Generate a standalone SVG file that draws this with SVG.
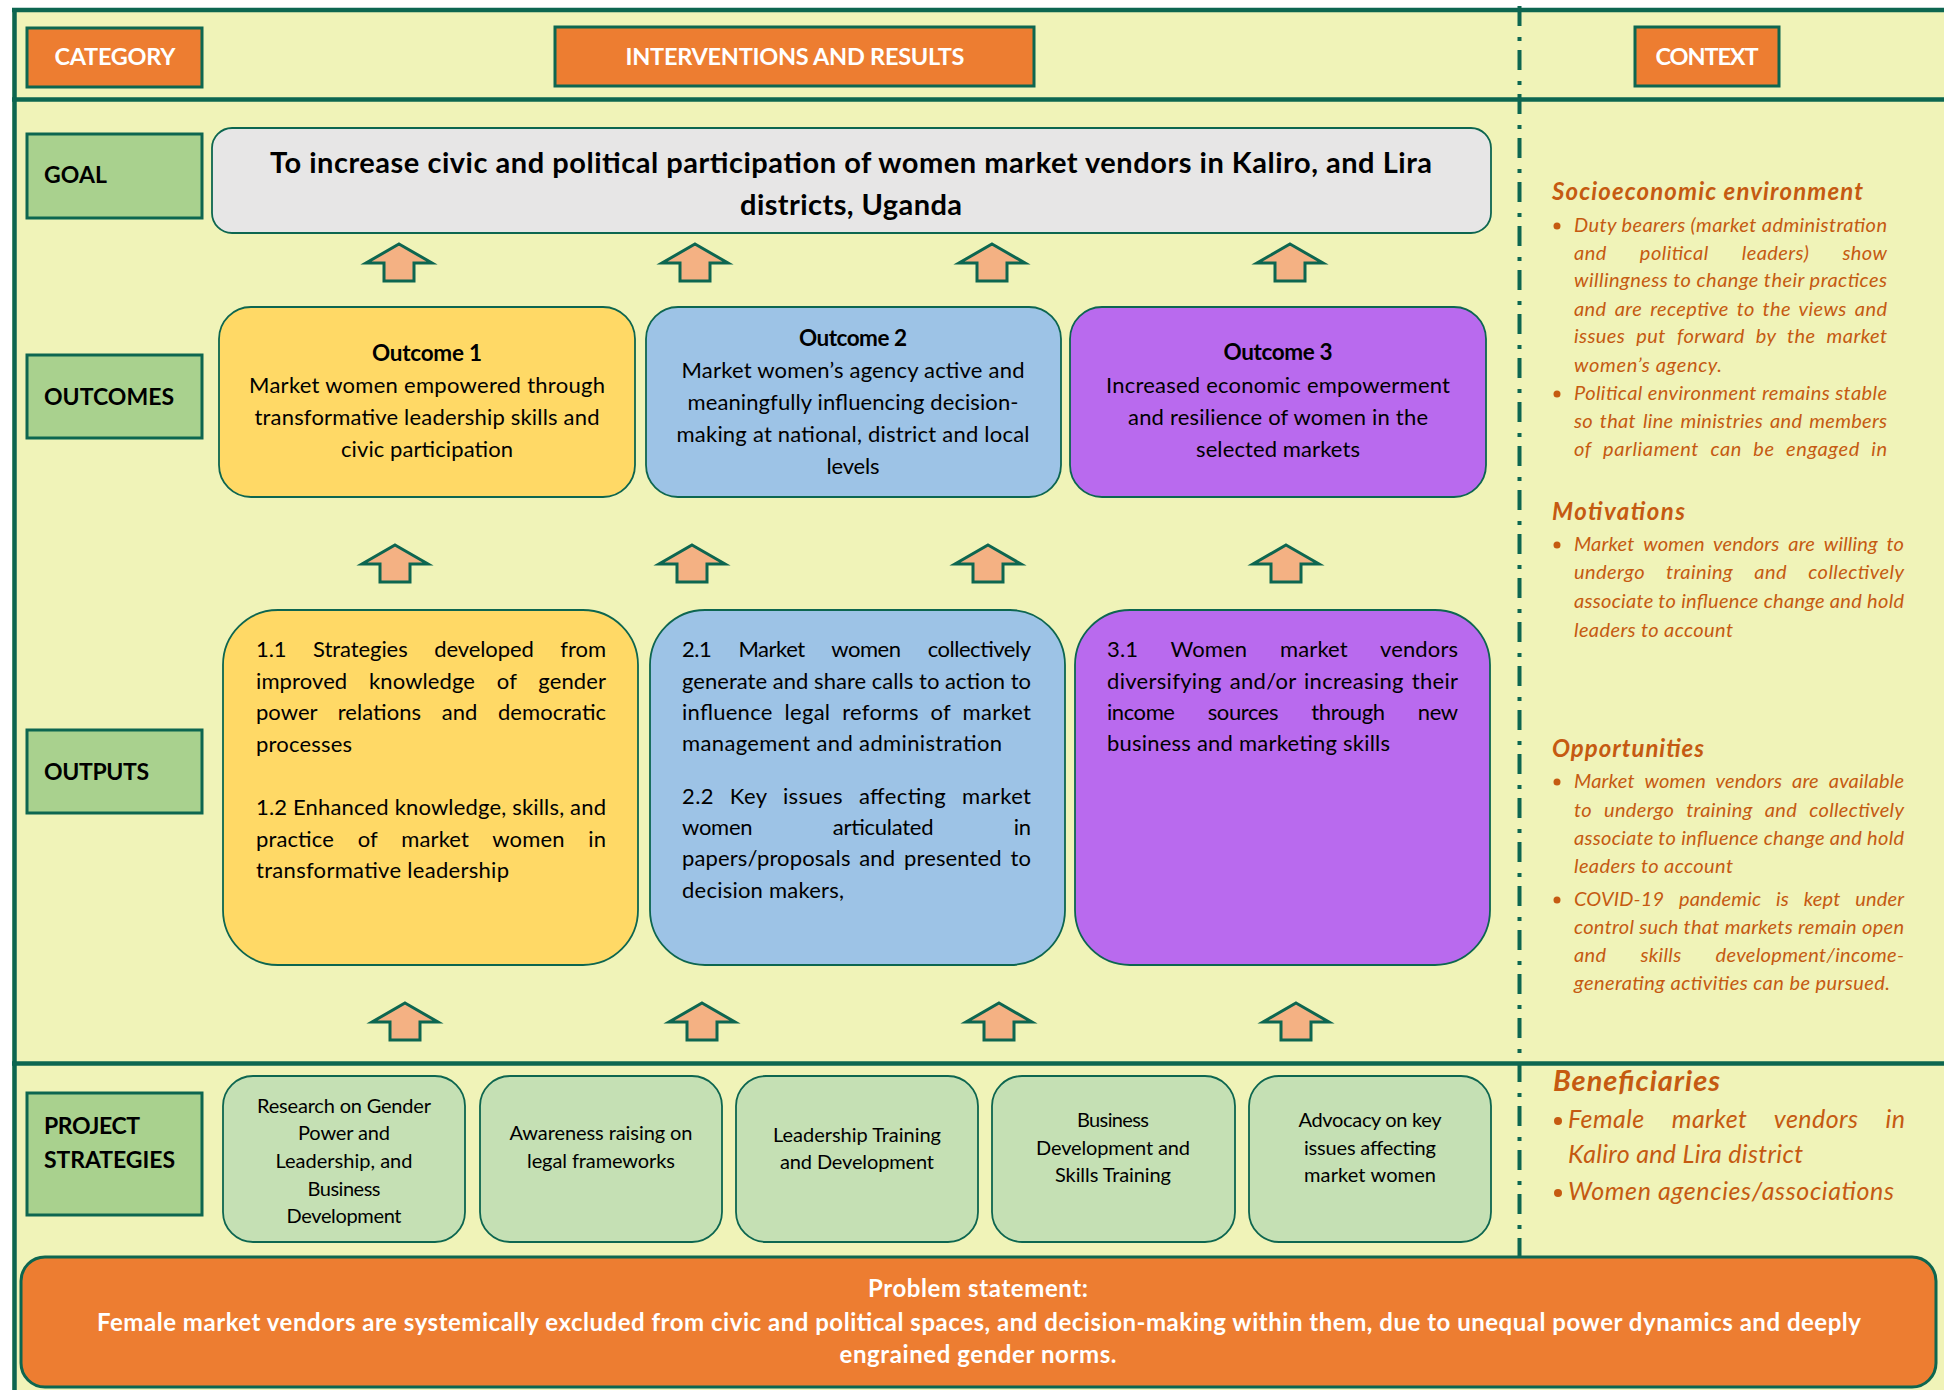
<svg xmlns="http://www.w3.org/2000/svg" width="1944" height="1390" viewBox="0 0 1944 1390">
  <defs>
    <style>
      text { font-family: Lato, "Liberation Sans", sans-serif; fill: #000; }
      .frame { stroke: #0D6650; stroke-width: 4.5; fill: none; }
      .dash { stroke: #0D6650; stroke-width: 4; fill: none; stroke-dasharray: 20 11 4 9; }
      .hdr rect { fill: #ED7D31; stroke: #0D6650; stroke-width: 3; }
      .hdr text { fill: #fff; font-weight: 700; font-size: 23.5px; text-anchor: middle; }
      .cat rect { fill: #A9D18E; stroke: #0D6650; stroke-width: 3; }
      .cat text { font-weight: 700; font-size: 23px; }
      .box { stroke: #0D6650; stroke-width: 1.8; }
      .goal { fill: #E7E6E6; }
      .yel { fill: #FFD966; }
      .blu { fill: #9DC3E6; }
      .pur { fill: #B96AEE; }
      .strat { fill: #C5E0B4; }
      .ttl { font-weight: 700; font-size: 22.5px; text-anchor: middle; }
      .ctr { font-size: 22px; text-anchor: middle; }
      .par { font-size: 22px; }
      .st { font-size: 20px; text-anchor: middle; }
      .gl { font-weight: 700; font-size: 29px; text-anchor: middle; }
      .prob rect { fill: #ED7D31; stroke: #0D6650; stroke-width: 3; }
      .prob text { fill: #fff; font-weight: 700; font-size: 24px; text-anchor: middle; }
      .ctx text { fill: #C55A11; font-style: italic; font-size: 20px; }
      .ctx text.h { font-weight: 700; font-size: 24px; }
      .ctx text.hb { font-weight: 700; font-size: 29px; }
      .ctx text.bn { font-size: 25px; }
      .ctx circle { fill: #C55A11; }
      .arw { fill: #F4B183; stroke: #0D6650; stroke-width: 3; stroke-linejoin: miter; }
    </style>
    <path id="up" class="arw" d="M0,0 L33,19 L15,19 L15,37 L-15,37 L-15,19 L-33,19 Z"/>
  </defs>

  <!-- page and frame -->
  <rect x="0" y="0" width="1944" height="1390" fill="#FFFFFF"/>
  <rect x="12" y="10" width="1932" height="1380" fill="#F0F3B8"/>
  <line class="dash" x1="1519.5" y1="6" x2="1519.5" y2="1257"/>
  <line class="frame" x1="12" y1="10" x2="1944" y2="10"/>
  <line class="frame" x1="14.5" y1="8" x2="14.5" y2="1390"/>
  <line class="frame" x1="12" y1="99.5" x2="1944" y2="99.5"/>
  <line class="frame" x1="12" y1="1063.5" x2="1944" y2="1063.5"/>

  <!-- column headers -->
  <g id="hdr-category" class="hdr">
    <rect x="27" y="28" width="175" height="59"/>
    <text x="115" y="65" textLength="121">CATEGORY</text>
  </g>
  <g id="hdr-interventions" class="hdr">
    <rect x="555" y="27" width="479" height="59"/>
    <text x="795" y="65" textLength="339">INTERVENTIONS AND RESULTS</text>
  </g>
  <g id="hdr-context" class="hdr">
    <rect x="1635" y="27" width="144" height="59"/>
    <text x="1707" y="65" textLength="103">CONTEXT</text>
  </g>

  <!-- row labels -->
  <g id="cat-goal" class="cat">
    <rect x="27" y="134" width="175" height="84"/>
    <text x="44" y="183" textLength="63">GOAL</text>
  </g>
  <g id="cat-outcomes" class="cat">
    <rect x="27" y="355" width="175" height="83"/>
    <text x="44" y="405" textLength="130">OUTCOMES</text>
  </g>
  <g id="cat-outputs" class="cat">
    <rect x="27" y="730" width="175" height="83"/>
    <text x="44" y="780" textLength="105">OUTPUTS</text>
  </g>
  <g id="cat-strategies" class="cat">
    <rect x="27" y="1093" width="175" height="122"/>
    <text x="44" y="1134" textLength="96">PROJECT</text>
    <text x="44" y="1168" textLength="131">STRATEGIES</text>
  </g>

  <!-- goal -->
  <g id="goal">
    <rect class="box goal" x="212" y="128" width="1279" height="105" rx="20"/>
    <text class="gl" x="851" y="173" textLength="1162">To increase civic and political participation of women market vendors in Kaliro, and Lira</text>
    <text class="gl" x="851" y="215" textLength="222">districts, Uganda</text>
  </g>

  <!-- outcomes -->
  <g id="outcome-1">
    <rect class="box yel" x="219" y="307" width="416" height="190" rx="32"/>
    <text class="ttl" x="427" y="361" textLength="110">Outcome 1</text>
    <text class="ctr" x="427" y="393" textLength="356">Market women empowered through</text>
    <text class="ctr" x="427" y="425" textLength="345">transformative leadership skills and</text>
    <text class="ctr" x="427" y="457" textLength="172">civic participation</text>
  </g>
  <g id="outcome-2">
    <rect class="box blu" x="646" y="307" width="415" height="190" rx="32"/>
    <text class="ttl" x="853" y="346" textLength="108">Outcome 2</text>
    <text class="ctr" x="853" y="378" textLength="343">Market women’s agency active and</text>
    <text class="ctr" x="853" y="410" textLength="331">meaningfully influencing decision-</text>
    <text class="ctr" x="853" y="442" textLength="353">making at national, district and local</text>
    <text class="ctr" x="853" y="474" textLength="53">levels</text>
  </g>
  <g id="outcome-3">
    <rect class="box pur" x="1070" y="307" width="416" height="190" rx="32"/>
    <text class="ttl" x="1278" y="360" textLength="109">Outcome 3</text>
    <text class="ctr" x="1278" y="393" textLength="344">Increased economic empowerment</text>
    <text class="ctr" x="1278" y="425" textLength="300">and resilience of women in the</text>
    <text class="ctr" x="1278" y="457" textLength="164">selected markets</text>
  </g>

  <!-- outputs -->
  <g id="output-1">
    <rect class="box yel" x="223" y="610" width="415" height="355" rx="55"/>
    <text class="par" x="256" y="657" textLength="350" style="word-spacing:21px">1.1 Strategies developed from</text>
    <text class="par" x="256" y="689" textLength="350" style="word-spacing:16px">improved knowledge of gender</text>
    <text class="par" x="256" y="720" textLength="350" style="word-spacing:15px">power relations and democratic</text>
    <text class="par" x="256" y="752" textLength="96">processes</text>
    <text class="par" x="256" y="815" textLength="350">1.2 Enhanced knowledge, skills, and</text>
    <text class="par" x="256" y="847" textLength="350" style="word-spacing:18px">practice of market women in</text>
    <text class="par" x="256" y="878" textLength="253">transformative leadership</text>
  </g>
  <g id="output-2">
    <rect class="box blu" x="650" y="610" width="415" height="355" rx="55"/>
    <text class="par" x="682" y="657" textLength="349" style="word-spacing:22px">2.1 Market women collectively</text>
    <text class="par" x="682" y="689" textLength="349">generate and share calls to action to</text>
    <text class="par" x="682" y="720" textLength="349" style="word-spacing:6px">influence legal reforms of market</text>
    <text class="par" x="682" y="751" textLength="320">management and administration</text>
    <text class="par" x="682" y="804" textLength="349" style="word-spacing:10px">2.2 Key issues affecting market</text>
    <text class="par" x="682" y="835" textLength="349" style="word-spacing:75px">women articulated in</text>
    <text class="par" x="682" y="866" textLength="349" style="word-spacing:3px">papers/proposals and presented to</text>
    <text class="par" x="682" y="898" textLength="162">decision makers,</text>
  </g>
  <g id="output-3">
    <rect class="box pur" x="1075" y="610" width="415" height="355" rx="55"/>
    <text class="par" x="1107" y="657" textLength="351" style="word-spacing:27px">3.1 Women market vendors</text>
    <text class="par" x="1107" y="689" textLength="351" style="word-spacing:2px">diversifying and/or increasing their</text>
    <text class="par" x="1107" y="720" textLength="351" style="word-spacing:28px">income sources through new</text>
    <text class="par" x="1107" y="751" textLength="283">business and marketing skills</text>
  </g>

  <!-- project strategies -->
  <g id="strategy-1">
    <rect class="box strat" x="223" y="1076" width="242" height="166" rx="30"/>
    <text class="st" x="344" y="1113" textLength="174">Research on Gender</text>
    <text class="st" x="344" y="1140" textLength="92">Power and</text>
    <text class="st" x="344" y="1168" textLength="137">Leadership, and</text>
    <text class="st" x="344" y="1196" textLength="73">Business</text>
    <text class="st" x="344" y="1223" textLength="115">Development</text>
  </g>
  <g id="strategy-2">
    <rect class="box strat" x="480" y="1076" width="242" height="166" rx="30"/>
    <text class="st" x="601" y="1140" textLength="183">Awareness raising on</text>
    <text class="st" x="601" y="1168" textLength="148">legal frameworks</text>
  </g>
  <g id="strategy-3">
    <rect class="box strat" x="736" y="1076" width="242" height="166" rx="30"/>
    <text class="st" x="857" y="1142" textLength="168">Leadership Training</text>
    <text class="st" x="857" y="1169" textLength="154">and Development</text>
  </g>
  <g id="strategy-4">
    <rect class="box strat" x="992" y="1076" width="243" height="166" rx="30"/>
    <text class="st" x="1113" y="1127" textLength="72">Business</text>
    <text class="st" x="1113" y="1155" textLength="154">Development and</text>
    <text class="st" x="1113" y="1182" textLength="116">Skills Training</text>
  </g>
  <g id="strategy-5">
    <rect class="box strat" x="1249" y="1076" width="242" height="166" rx="30"/>
    <text class="st" x="1370" y="1127" textLength="143">Advocacy on key</text>
    <text class="st" x="1370" y="1155" textLength="132">issues affecting</text>
    <text class="st" x="1370" y="1182" textLength="132">market women</text>
  </g>

  <!-- problem statement -->
  <g id="problem" class="prob">
    <rect x="21" y="1257" width="1915" height="130" rx="24"/>
    <text x="978" y="1297" textLength="220">Problem statement:</text>
    <text x="979" y="1331" textLength="1764">Female market vendors are systemically excluded from civic and political spaces, and decision-making within them, due to unequal power dynamics and deeply</text>
    <text x="978" y="1363" textLength="277">engrained gender norms.</text>
  </g>

  <!-- context column -->
  <g id="ctx-socioeconomic" class="ctx">
    <text class="h" x="1552" y="200" textLength="311">Socioeconomic environment</text>
    <circle cx="1557" cy="226" r="3.5"/>
    <text x="1574" y="232" textLength="313">Duty bearers (market administration</text>
    <text x="1574" y="260" textLength="313" style="word-spacing:28px">and political leaders) show</text>
    <text x="1574" y="287" textLength="313">willingness to change their practices</text>
    <text x="1574" y="316" textLength="313" style="word-spacing:3px">and are receptive to the views and</text>
    <text x="1574" y="343" textLength="313" style="word-spacing:6px">issues put forward by the market</text>
    <text x="1574" y="372" textLength="148">women’s agency.</text>
    <circle cx="1557" cy="394" r="3.5"/>
    <text x="1574" y="400" textLength="313">Political environment remains stable</text>
    <text x="1574" y="428" textLength="313" style="word-spacing:2px">so that line ministries and members</text>
    <text x="1574" y="456" textLength="313" style="word-spacing:6px">of parliament can be engaged in</text>
  </g>
  <g id="ctx-motivations" class="ctx">
    <text class="h" x="1552" y="520" textLength="133">Motivations</text>
    <circle cx="1557" cy="545" r="3.5"/>
    <text x="1574" y="551" textLength="330" style="word-spacing:4px">Market women vendors are willing to</text>
    <text x="1574" y="579" textLength="330" style="word-spacing:16px">undergo training and collectively</text>
    <text x="1574" y="608" textLength="330">associate to influence change and hold</text>
    <text x="1574" y="637" textLength="159">leaders to account</text>
  </g>
  <g id="ctx-opportunities" class="ctx">
    <text class="h" x="1552" y="757" textLength="152">Opportunities</text>
    <circle cx="1557" cy="782" r="3.5"/>
    <text x="1574" y="788" textLength="330" style="word-spacing:5px">Market women vendors are available</text>
    <text x="1574" y="817" textLength="330" style="word-spacing:7px">to undergo training and collectively</text>
    <text x="1574" y="845" textLength="330">associate to influence change and hold</text>
    <text x="1574" y="873" textLength="159">leaders to account</text>
    <circle cx="1557" cy="900" r="3.5"/>
    <text x="1574" y="906" textLength="330" style="word-spacing:10px">COVID-19 pandemic is kept under</text>
    <text x="1574" y="934" textLength="330">control such that markets remain open</text>
    <text x="1574" y="962" textLength="330" style="word-spacing:29px">and skills development/income-</text>
    <text x="1574" y="990" textLength="316">generating activities can be pursued.</text>
  </g>
  <g id="ctx-beneficiaries" class="ctx">
    <text class="hb" x="1553" y="1091" textLength="167">Beneficiaries</text>
    <circle cx="1558" cy="1121" r="4"/>
    <text class="bn" x="1568" y="1128" textLength="337" style="word-spacing:21px">Female market vendors in</text>
    <text class="bn" x="1568" y="1163" textLength="235">Kaliro and Lira district</text>
    <circle cx="1558" cy="1193" r="4"/>
    <text class="bn" x="1568" y="1200" textLength="326">Women agencies/associations</text>
  </g>

  <!-- upward block arrows between levels -->
  <g id="connectors">
    <use href="#up" x="399" y="244"/>
    <use href="#up" x="695" y="244"/>
    <use href="#up" x="992" y="244"/>
    <use href="#up" x="1290" y="244"/>
    <use href="#up" x="395" y="545"/>
    <use href="#up" x="692" y="545"/>
    <use href="#up" x="988" y="545"/>
    <use href="#up" x="1286" y="545"/>
    <use href="#up" x="405" y="1003"/>
    <use href="#up" x="702" y="1003"/>
    <use href="#up" x="999" y="1003"/>
    <use href="#up" x="1296" y="1003"/>
  </g>
</svg>
